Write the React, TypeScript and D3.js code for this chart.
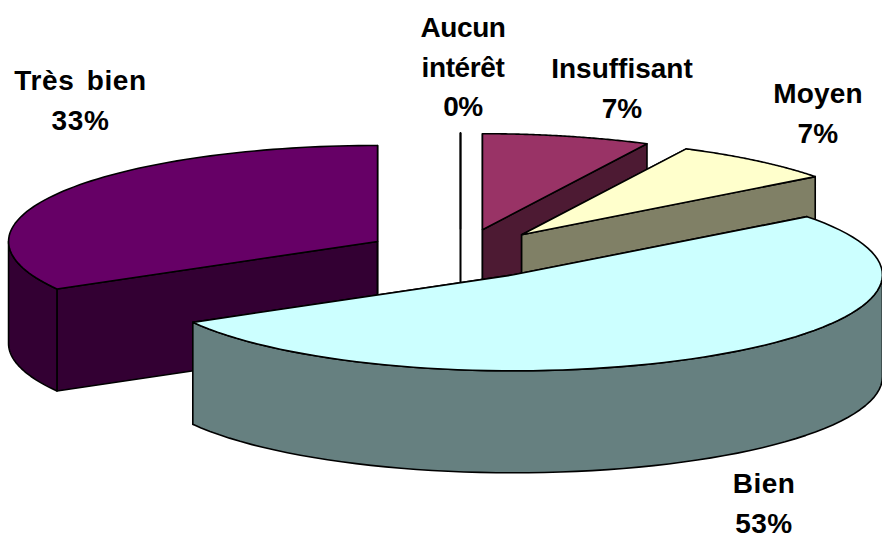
import * as d3 from "d3";

const categories = ["Insuffisant", "Aucun intérêt", "Moyen", "Très bien", "Bien"];
const sliceOrder = ["Aucun intérêt", "Insuffisant", "Moyen", "Bien", "Très bien"];
const percents = [0, 7, 7, 53, 33];
const topColors: Record<string, string> = {
  "Aucun intérêt": "#ffffff",
  "Insuffisant": "#993366",
  "Moyen": "#ffffcc",
  "Bien": "#ccffff",
  "Très bien": "#660066",
};
const sideColors: Record<string, string> = {
  "Aucun intérêt": "#ffffff",
  "Insuffisant": "#4d1a33",
  "Moyen": "#808066",
  "Bien": "#668080",
  "Très bien": "#330033",
};
// label lines + where each block sits
const labelLines: Record<string, string[]> = {
  "Aucun intérêt": ["Aucun", "intérêt", "0%"],
  "Insuffisant": ["Insuffisant", "7%"],
  "Moyen": ["Moyen", "7%"],
  "Bien": ["Bien", "53%"],
  "Très bien": ["Très bien", "33%"],
};
const labelPos: Record<string, [number, number]> = {
  "Aucun intérêt": [463, 37],
  "Insuffisant": [622, 78],
  "Moyen": [818, 103],
  "Bien": [764, 493],
  "Très bien": [80.5, 90],
};
const labelSpacing: Record<string, [number, number]> = {
  "Aucun intérêt": [-0.4, 0],
  "Insuffisant": [0, 0],
  "Moyen": [0.2, 0],
  "Bien": [0.5, 0],
  "Très bien": [0.6, 4],
};

const width = 882;
const height = 534;
const cx = 460.5;
const cy = 254;
const rx = 369;
const ry = 96;
const depth = 102;
const explode = 0.26;
const lineGap = 39.5;

const pie = d3.pie<string>()
  .sort(null)
  .value((d) => percents[sliceOrder.indexOf(d)]);

// small foreshortening of the 3D view
const warp = (a: number) => {
  const s = Math.sin(a);
  return a + ((s > 0 ? 3 : 1) * Math.PI / 180) * s;
};
const project = (a: number, r = 1): [number, number] => [
  rx * r * Math.sin(a),
  -ry * r * Math.cos(a),
];

const line = d3.line();

const App = () => {
  const slices = pie(sliceOrder);
  const byName = new Map(slices.map((s) => [s.data, s]));

  const shapes = categories.map((name) => {
    const s = byName.get(name)!;
    const a0 = warp(s.startAngle);
    const a1 = warp(s.endAngle);
    const [dx, dy] = project((a0 + a1) / 2, explode);
    const ox = cx + dx;
    const oy = cy + dy;
    const pt = (a: number, down = 0): [number, number] => {
      const [x, y] = project(a);
      return [ox + x, oy + y + down];
    };
    const apex: [number, number] = [ox, oy];
    const apexDown: [number, number] = [ox, oy + depth];

    const steps = d3.range(0, 81).map((i) => a0 + ((a1 - a0) * i) / 80);
    const top = line([apex, ...steps.map((a) => pt(a))]) + "Z";

    const walls = [
      line([apex, pt(a0), pt(a0, depth), apexDown]) + "Z",
      line([apex, pt(a1), pt(a1, depth), apexDown]) + "Z",
    ];

    // outer wall only on the part of the rim that faces the viewer
    const f0 = Math.max(a0, Math.PI / 2);
    const f1 = Math.min(a1, (3 * Math.PI) / 2);
    let outer: string | null = null;
    if (f1 > f0) {
      const rim = d3.range(0, 61).map((i) => f0 + ((f1 - f0) * i) / 60);
      outer = line([...rim.map((a) => pt(a)), ...rim.slice().reverse().map((a) => pt(a, depth))]) + "Z";
    }
    return { name, top, walls, outer };
  });

  return (
    <svg
      width={width}
      height={height}
      style={{ position: "absolute", left: 0, top: 0, background: "#fff" }}
    >
      {shapes.map((d) => (
        <g key={d.name} stroke="#000" strokeWidth={1.6} strokeLinejoin="round">
          {d.walls.map((w, i) => (
            <path key={i} d={w} fill={sideColors[d.name]} />
          ))}
          {d.outer && <path d={d.outer} fill={sideColors[d.name]} />}
          <path d={d.top} fill={topColors[d.name]} />
        </g>
      ))}
      {sliceOrder.map((name) => (
        <text
          key={name}
          fontFamily="'Liberation Sans', Arial, sans-serif"
          fontWeight="bold"
          fontSize={28}
          textAnchor="middle"
          fill="#000"
          letterSpacing={labelSpacing[name][0]}
          wordSpacing={labelSpacing[name][1]}
        >
          {labelLines[name].map((t, i) => (
            <tspan key={i} x={labelPos[name][0]} y={labelPos[name][1] + i * lineGap}>
              {t}
            </tspan>
          ))}
        </text>
      ))}
    </svg>
  );
};

export default App;
